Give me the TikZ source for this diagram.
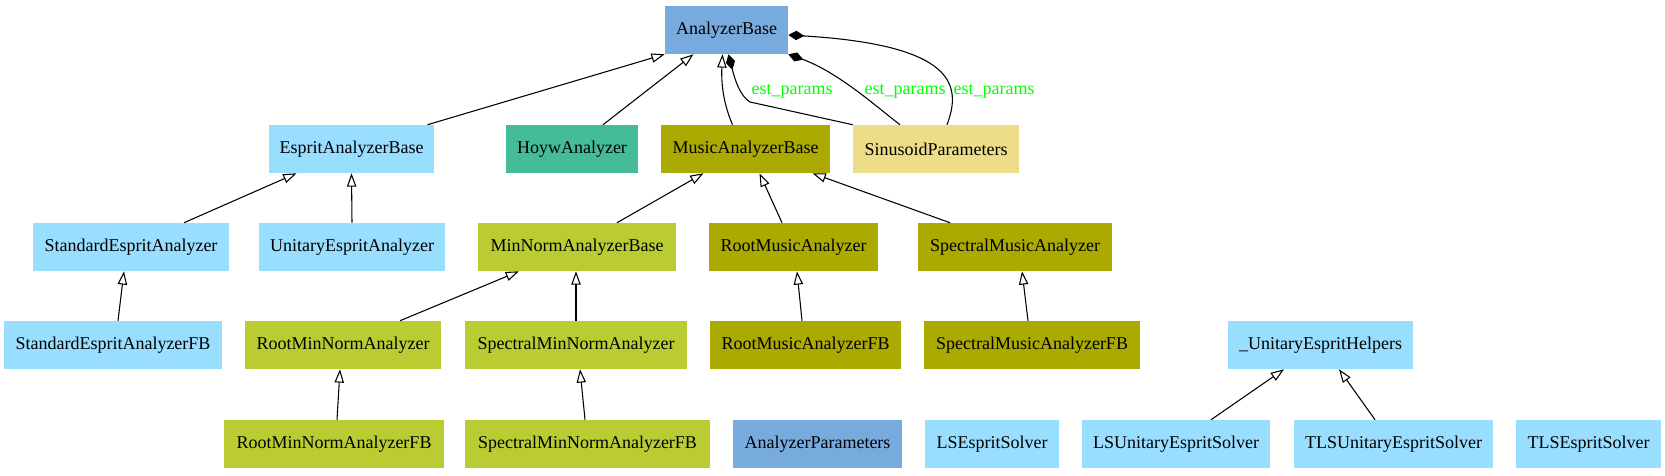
\documentclass[tikz,border=0pt]{standalone}
\usepackage{fontspec}
\setmainfont{Liberation Serif}
\newfontfamily\tms{Liberation Serif}
\usetikzlibrary{arrows.meta,calc}
\definecolor{cblue}{HTML}{77AADD}
\definecolor{clight}{HTML}{99DDFF}
\definecolor{cteal}{HTML}{44BB99}
\definecolor{colive}{HTML}{AAAA00}
\definecolor{cpear}{HTML}{BBCC33}
\definecolor{csand}{HTML}{EEDD88}
\definecolor{cgreen}{HTML}{00FF00}
\begin{document}
\begin{tikzpicture}[x=0.75pt,y=-0.75pt,
  box/.style={rectangle,inner sep=0pt,minimum height=36pt,font=\tms\fontsize{13.5}{16}\selectfont},
  inh/.style={draw=black,line width=0.8pt,-{Triangle[open,length=10pt,width=7pt]}},
  comp/.style={draw=black,line width=0.8pt,-{Diamond[length=12pt,width=7pt]}},
  lbl/.style={font=\tms\fontsize{13.5}{16}\selectfont,text=cgreen,inner sep=0pt}]
\useasboundingbox (0,0) rectangle (1665,475);
% row 0
\node[box,fill=cblue,minimum width=123*0.75pt] (ab) at (726.5,30) {AnalyzerBase};
% row 1
\node[box,fill=clight,minimum width=165*0.75pt] (eab) at (351.5,149) {EspritAnalyzerBase};
\node[box,fill=cteal,minimum width=132*0.75pt] (hoyw) at (572,149) {HoywAnalyzer};
\node[box,fill=colive,minimum width=169*0.75pt] (mab) at (745.5,149) {MusicAnalyzerBase};
\node[box,fill=csand,minimum width=166*0.75pt] (sp) at (936,149) {SinusoidParameters};
% row 2
\node[box,fill=clight,minimum width=196*0.75pt] (sea) at (131,247) {StandardEspritAnalyzer};
\node[box,fill=clight,minimum width=186*0.75pt] (uea) at (352,247) {UnitaryEspritAnalyzer};
\node[box,fill=cpear,minimum width=198*0.75pt] (mnab) at (577,247) {MinNormAnalyzerBase};
\node[box,fill=colive,minimum width=169*0.75pt] (rma) at (793.5,247) {RootMusicAnalyzer};
\node[box,fill=colive,minimum width=194*0.75pt] (sma) at (1015,247) {SpectralMusicAnalyzer};
% row 3
\node[box,fill=clight,minimum width=218*0.75pt] (seafb) at (113,345) {StandardEspritAnalyzerFB};
\node[box,fill=cpear,minimum width=196*0.75pt] (rmna) at (343,345) {RootMinNormAnalyzer};
\node[box,fill=cpear,minimum width=222*0.75pt] (smna) at (576,345) {SpectralMinNormAnalyzer};
\node[box,fill=colive,minimum width=191*0.75pt] (rmafb) at (805.5,345) {RootMusicAnalyzerFB};
\node[box,fill=colive,minimum width=216*0.75pt] (smafb) at (1032,345) {SpectralMusicAnalyzerFB};
\node[box,fill=clight,minimum width=185*0.75pt] (ueh) at (1320.5,345) {\_UnitaryEspritHelpers};
% row 4
\node[box,fill=cpear,minimum width=220*0.75pt] (rmnafb) at (334,444) {RootMinNormAnalyzerFB};
\node[box,fill=cpear,minimum width=245*0.75pt] (smnafb) at (587.5,444) {SpectralMinNormAnalyzerFB};
\node[box,fill=cblue,minimum width=169*0.75pt] (ap) at (817.5,444) {AnalyzerParameters};
\node[box,fill=clight,minimum width=134*0.75pt] (lses) at (992,444) {LSEspritSolver};
\node[box,fill=clight,minimum width=188*0.75pt] (lsues) at (1176,444) {LSUnitaryEspritSolver};
\node[box,fill=clight,minimum width=199*0.75pt] (tlsues) at (1393.5,444) {TLSUnitaryEspritSolver};
\node[box,fill=clight,minimum width=145*0.75pt] (tlses) at (1588.5,444) {TLSEspritSolver};
% inheritance edges
\draw[inh] ($(eab.north)+(76,0)$) -- (ab.south west);
\draw[inh] ($(hoyw.north)+(31,0)$) -- ($(ab.south)+(-33,0)$);
\draw[inh] ($(mab.north)+(-13,0)$) .. controls (724,105) and (721,85) .. ($(ab.south)+(-4,0)$);
\draw[inh] ($(sea.north)+(53,0)$) -- ($(eab.south)+(-55,0)$);
\draw[inh] (uea.north) -- (eab.south);
\draw[inh] ($(mnab.north)+(40,0)$) -- ($(mab.south)+(-42,0)$);
\draw[inh] ($(rma.north)+(-11.5,0)$) -- ($(mab.south)+(14,0)$);
\draw[inh] ($(sma.north)+(-65,0)$) -- ($(mab.south)+(67,0)$);
\draw[inh] ($(seafb.north)+(5,0)$) -- ($(sea.south)+(-7,0)$);
\draw[inh] ($(rmna.north)+(57,0)$) -- ($(mnab.south)+(-58,0)$);
\draw[inh] (smna.north) -- (mnab.south -| smna.north);
\draw[inh] ($(rmafb.north)+(-3.5,0)$) -- ($(rma.south)+(3.5,0)$);
\draw[inh] ($(smafb.north)+(-4,0)$) -- ($(sma.south)+(7,0)$);
\draw[inh] ($(rmnafb.north)+(3,0)$) -- ($(rmna.south)+(-3,0)$);
\draw[inh] ($(smnafb.north)+(-2.5,0)$) -- ($(smna.south)+(4,0)$);
\draw[inh] ($(lsues.north)+(35,0)$) -- ($(ueh.south)+(-36.5,0)$);
\draw[inh] ($(tlsues.north)+(-18.5,0)$) -- ($(ueh.south)+(18.5,0)$);
% composition edges
\draw[comp] (sp.north west) -- (750,102) .. controls (740,96) and (735,80) .. ($(ab.south)+(2,0)$);
\draw[comp] ($(sp.north)+(-36,0)$) .. controls (878,108) and (838,72) .. (ab.south east);
\draw[comp] ($(sp.north)+(11,0)$) .. controls (962,85) and (955,45) .. ($(ab.east)+(0,5)$);
\node[lbl] (l1) at (792,91) {est\_params};
\node[lbl] (l2) at (905,91) {est\_params};
\node[lbl] (l3) at (994,91) {est\_params};
\end{tikzpicture}
\end{document}
